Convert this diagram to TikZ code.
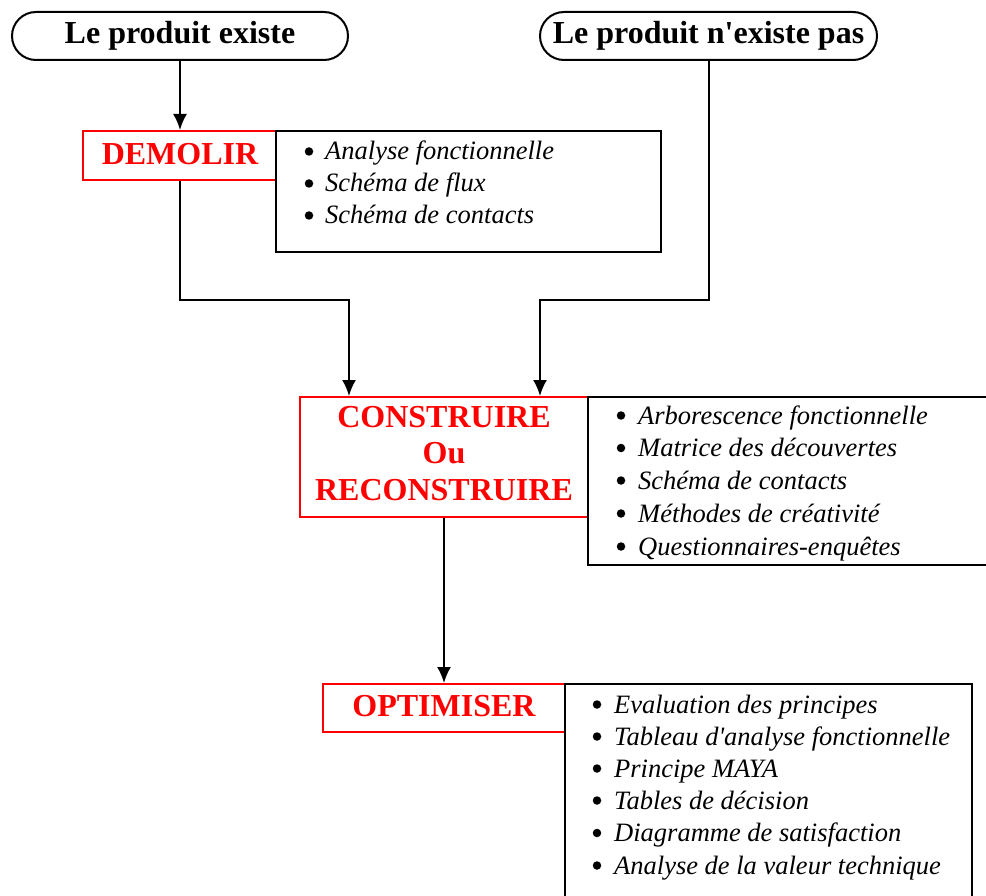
\documentclass[tikz,border=0pt]{standalone}
\usepackage{fontspec}
\setmainfont{Liberation Serif}
\usetikzlibrary{arrows.meta}
\definecolor{boxred}{RGB}{255,0,0}
\begin{document}
\begin{tikzpicture}[x=1pt,y=-1pt,
  oval/.style={draw=black,line width=2pt,rounded corners=24pt,minimum height=48pt,inner sep=0pt},
  redbox/.style={draw=boxred,line width=2pt,inner sep=0pt},
  listbox/.style={draw=black,line width=2pt,inner sep=0pt},
  btitle/.style={font=\fontsize{32}{37}\selectfont\bfseries,inner sep=0pt,anchor=base},
  rtitle/.style={btitle,text=boxred},
  item/.style={font=\fontsize{26.5}{32}\selectfont\itshape,inner sep=0pt,anchor=base west},
  bul/.style={circle,fill=black,inner sep=0pt,minimum size=8.5pt,yshift=8.5pt},
  conn/.style={line width=2pt,-{Latex[length=16pt,width=14pt]}}]
\useasboundingbox (0,0) rectangle (986,896);
% top ovals
\node[oval,minimum width=336pt] (o1) at (180,36) {};
\node[btitle] (t1) at (180,44) {Le produit existe};
\node[oval,minimum width=337pt] (o2) at (708.5,36) {};
\node[btitle] (t2) at (708.5,44) {Le produit n\textquotesingle existe pas};
% red boxes
\node[redbox,minimum width=193pt,minimum height=49pt] (dem) at (179.5,155.5) {};
\node[rtitle] (tdem) at (180,165) {DEMOLIR};
\node[redbox,minimum width=288pt,minimum height=120pt] (con) at (444,457) {};
\node[rtitle] (tc1) at (444,427) {CONSTRUIRE};
\node[rtitle] (tc2) at (444,463.5) {Ou};
\node[rtitle] (tc3) at (444,500) {RECONSTRUIRE};
\node[redbox,minimum width=242pt,minimum height=48pt] (opt) at (444,708) {};
\node[rtitle] (topt) at (444,716) {OPTIMISER};
% list boxes
\node[listbox,minimum width=385pt,minimum height=121pt] (l1) at (468.5,191.5) {};
\node[listbox,minimum width=412pt,minimum height=168pt] (l2) at (794,481) {};
\node[listbox,minimum width=407pt,minimum height=240pt] (l3) at (768.5,804) {};
% list 1
\node[bul] (b11) at (309,160) {};
\node[item] (i11) at (325,160) {Analyse fonctionnelle};
\node[bul] (b12) at (309,192) {};
\node[item] (i12) at (325,192) {Schéma de flux};
\node[bul] (b13) at (309,224) {};
\node[item] (i13) at (325,224) {Schéma de contacts};
% list 2
\node[bul] (b21) at (621,424) {};
\node[item] (i21) at (638,424) {Arborescence fonctionnelle};
\node[bul] (b22) at (621,456.5) {};
\node[item] (i22) at (638,456.5) {Matrice des découvertes};
\node[bul] (b23) at (621,489) {};
\node[item] (i23) at (638,489) {Schéma de contacts};
\node[bul] (b24) at (621,522) {};
\node[item] (i24) at (638,522) {Méthodes de créativité};
\node[bul] (b25) at (621,555) {};
\node[item] (i25) at (638,555) {Questionnaires-enquêtes};
% list 3
\node[bul] (b31) at (597,713) {};
\node[item] (i31) at (614,713) {Evaluation des principes};
\node[bul] (b32) at (597,745) {};
\node[item] (i32) at (614,745) {Tableau d\textquotesingle analyse fonctionnelle};
\node[bul] (b33) at (597,777) {};
\node[item] (i33) at (614,777) {Principe MAYA};
\node[bul] (b34) at (597,809) {};
\node[item] (i34) at (614,809) {Tables de décision};
\node[bul] (b35) at (597,841.5) {};
\node[item] (i35) at (614,841.5) {Diagramme de satisfaction};
\node[bul] (b36) at (597,874) {};
\node[item] (i36) at (614,874) {Analyse de la valeur technique};
% connectors
\coordinate (j1) at (349,300);
\coordinate (j2) at (540,300);
\draw[conn] (o1.south) -- (o1.south |- dem.north);
\draw[conn] (dem.south) |- (j1) -- (j1 |- con.north);
\draw[conn] (o2.south) |- (j2) -- (j2 |- con.north);
\draw[conn] (con.south) -- (opt.north);
\end{tikzpicture}
\end{document}
